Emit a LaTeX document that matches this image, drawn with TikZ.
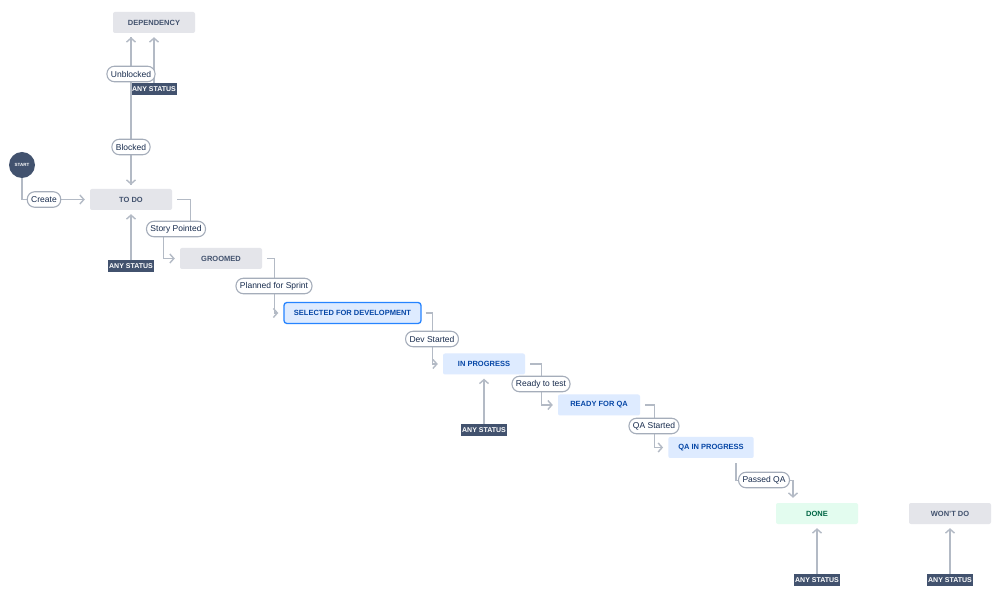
\documentclass[tikz,border=0pt]{standalone}
\usepackage{fontspec}
\setmainfont{Liberation Sans}
\usetikzlibrary{positioning}
\usetikzlibrary{arrows.meta}
\usetikzlibrary{calc}

\definecolor{boxgray}{HTML}{E4E5EA}
\definecolor{boxblue}{HTML}{DEEBFF}
\definecolor{boxgreen}{HTML}{E3FCEF}
\definecolor{navy}{HTML}{42526E}
\definecolor{textblue}{HTML}{0747A6}
\definecolor{textgreen}{HTML}{006644}
\definecolor{linegray}{HTML}{B3BAC5}
\definecolor{pillgray}{HTML}{A5ADBA}
\definecolor{darktext}{HTML}{172B4D}
\definecolor{selblue}{HTML}{2684FF}

\begin{document}
\begin{tikzpicture}
[x=1pt,y=-1pt,
 status/.style={shape=rectangle,rounded corners=2pt,fill=boxgray,text=navy,
   minimum width=82pt,minimum height=21pt,inner xsep=10pt,
   font=\fontsize{7.5}{9}\selectfont\bfseries},
 progress/.style={status,fill=boxblue,text=textblue},
 selected/.style={progress,draw=selblue,line width=1.3pt,rounded corners=3pt},
 finished/.style={status,fill=boxgreen,text=textgreen},
 anystatus/.style={shape=rectangle,fill=navy,text=white,inner xsep=1pt,
   minimum height=12pt,inner ysep=0pt,font=\fontsize{7}{8}\selectfont\bfseries},
 pill/.style={shape=rectangle,rounded corners=7.5pt,draw=pillgray,line width=1.1pt,
   fill=white,text=darktext,minimum height=15.5pt,inner xsep=4pt,inner ysep=0pt,
   font=\fontsize{8.5}{10}\selectfont},
 flow/.style={draw=linegray,line width=1.4pt,
   -{Straight Barb[length=4pt,width=9pt,line width=1.4pt]}}]

\useasboundingbox [fill=white] (0,0) rectangle (999,593);

\node (start) at (22,165) [circle,fill=navy,minimum size=26pt,inner sep=0pt,
  text=white,font=\fontsize{4.5}{5}\selectfont\bfseries] {START};

\node (dependency) at (154,22.5) [status] {DEPENDENCY};
\node (todo) at (131,199.5) [status] {TO DO};
\node (groomed) at (221,258.5) [status] {GROOMED};
\node (selected) at (352.5,313) [selected] {SELECTED FOR DEVELOPMENT};
\node (inprogress) at (484,364) [progress] {IN PROGRESS};
\node (readyqa) at (599,405) [progress] {READY FOR QA};
\node (qainprogress) at (711,447.5) [progress] {QA IN PROGRESS};
\node (done) at (817,513.5) [finished] {DONE};
\node (wontdo) at (950,513.5) [status] {WON'T DO};

\node (any1) at (154,89) [anystatus] {ANY STATUS};
\node (any2) at (131,266.5) [anystatus] {ANY STATUS};
\node (any3) at (484,430) [anystatus] {ANY STATUS};
\node (any4) at (817,580) [anystatus] {ANY STATUS};
\node (any5) at (950,580) [anystatus] {ANY STATUS};

\draw [flow] (start.south) |- ($(todo.west)+(-5,0)$);
\draw [flow] ($(todo.north |- dependency.south)+(0,4)$) -- ($(todo.north)+(0,-4)$);
\draw [flow] ($(todo.north)+(0,-4)$) -- ($(todo.north |- dependency.south)+(0,4)$);
\draw [flow] (any1.north) -- ($(any1.north |- dependency.south)+(0,4)$);
\draw [flow] (any2.north) -- ($(todo.south)+(0,4)$);
\draw [flow] (any3.north) -- ($(inprogress.south)+(0,4)$);
\draw [flow] (any4.north) -- ($(done.south)+(0,4)$);
\draw [flow] (any5.north) -- ($(wontdo.south)+(0,4)$);

\draw [flow] ($(todo.east)+(5,0)$) -- ++(13,0) -- ++(0,29.5) -- ++(-27,0)
	|- ($(groomed.west)+(-5,0)$);
\draw [flow] ($(groomed.east)+(5,0)$) -- ++(7,0)
	|- ($(selected.west)+(-5,0)$);
\draw [flow] ($(selected.east)+(4,0)$) -- ++(7,0)
	|- ($(inprogress.west)+(-5,0)$);
\draw [flow] ($(inprogress.east)+(5,0)$) -- ++(11,0)
	|- ($(readyqa.west)+(-5,0)$);
\draw [flow] ($(readyqa.east)+(5,0)$) -- ++(9,0)
	|- ($(qainprogress.west)+(-5,0)$);
\draw [flow] ($(qainprogress.south)+(25,5)$) -- ++(0,17)
	-| ($(done.north)+(-24,-5)$);

\node (create) at (44,199.5) [pill] {Create};
\node (unblocked) at (131,74) [pill] {Unblocked};
\node (blocked) at (131,147) [pill] {Blocked};
\node (storypointed) at (176,229) [pill] {Story Pointed};
\node (planned) at (274,286) [pill] {Planned for Sprint};
\node (devstarted) at (432,339) [pill] {Dev Started};
\node (readytest) at (541,384) [pill] {Ready to test};
\node (qastarted) at (654,426) [pill] {QA Started};
\node (passedqa) at (764,480) [pill] {Passed QA};
\end{tikzpicture}
\end{document}
